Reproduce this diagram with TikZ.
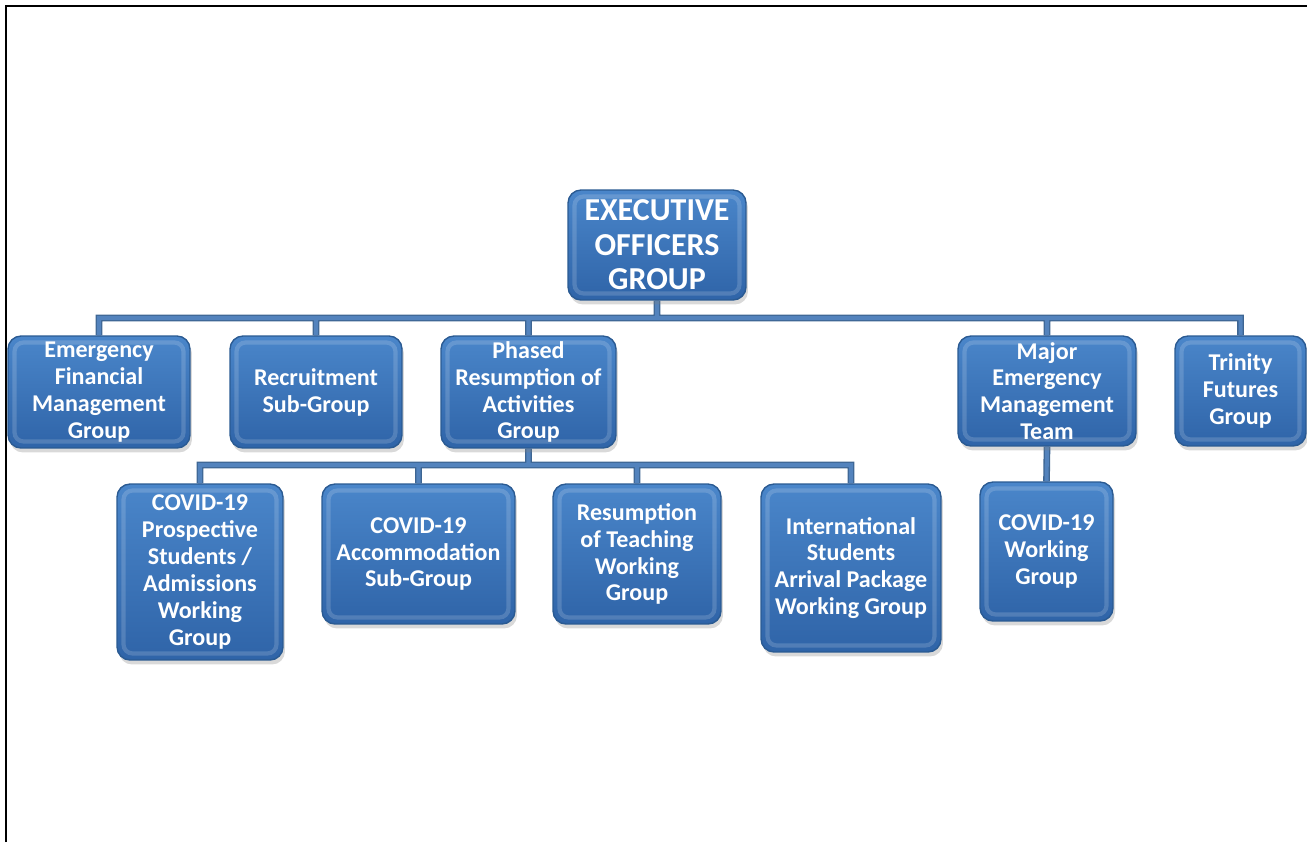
\documentclass[tikz,border=0pt]{standalone}
\usepackage{fontspec}
\setmainfont{Carlito}
\usetikzlibrary{shadows}
\usetikzlibrary{backgrounds}

\definecolor{boxtop}{HTML}{4A86CA}
\definecolor{boxbot}{HTML}{2F64A8}
\definecolor{boxedge}{HTML}{2A5A92}
\definecolor{linkedge}{HTML}{3D6592}
\definecolor{linkfill}{HTML}{5383BD}

\begin{document}
\begin{tikzpicture}[x=0.02cm, y=-0.02cm]
\useasboundingbox (0,0) rectangle (1307,842);
\draw[line width=1.7pt] (6,842) -- (6,6) -- (1307,6);

\begin{scope}
\tikzstyle{orgbox}=[shape=rectangle, rounded corners=0.26cm, top color=boxtop, bottom color=boxbot,
  draw=boxedge, line width=0.8pt, text=white, align=center, inner sep=2pt,
  font=\fontsize{13.7}{15.3}\selectfont\bfseries,
  drop shadow={shadow xshift=0.4mm, shadow yshift=-0.9mm, opacity=0.3},
  path picture={\draw[white, opacity=0.16, line width=2.4pt, rounded corners=0.18cm]
    ([shift={(0.13cm,-0.13cm)}]path picture bounding box.north west) rectangle
    ([shift={(-0.13cm,0.13cm)}]path picture bounding box.south east);}];

% top
\draw (657,245) node[orgbox, minimum width=3.56cm, minimum height=2.2cm,
  font=\fontsize{18.2}{19.6}\selectfont\bfseries] (e1) {EXECUTIVE\\OFFICERS\\GROUP};

% first row
\draw (99,392) node[orgbox, minimum width=3.64cm, minimum height=2.24cm] (a1) {Emergency\\Financial\\Management\\Group};
\draw (316,392) node[orgbox, minimum width=3.44cm, minimum height=2.24cm] (a2) {Recruitment\\Sub-Group};
\draw (528.5,392) node[orgbox, minimum width=3.5cm, minimum height=2.24cm] (a3) {Phased\\Resumption of\\Activities\\Group};
\draw (1047,391) node[orgbox, minimum width=3.56cm, minimum height=2.2cm] (a4) {Major\\Emergency\\Management\\Team};
\draw (1240.5,391) node[orgbox, minimum width=2.62cm, minimum height=2.2cm] (a5) {Trinity\\Futures\\Group};

% second row
\draw (200,572) node[orgbox, minimum width=3.32cm, minimum height=3.52cm] (b1) {COVID-19\\Prospective\\Students /\\Admissions\\Working\\Group};
\draw (418.5,554) node[orgbox, minimum width=3.86cm, minimum height=2.8cm] (b2) {COVID-19\\Accommodation\\Sub-Group};
\draw (637,554) node[orgbox, minimum width=3.36cm, minimum height=2.8cm] (b3) {Resumption\\of Teaching\\Working\\Group};
\draw (851,568) node[orgbox, minimum width=3.6cm, minimum height=3.36cm] (b4) {International\\Students\\Arrival Package\\Working Group};
\draw (1046.5,551.5) node[orgbox, minimum width=2.66cm, minimum height=2.78cm] (c1) {COVID-19\\Working\\Group};

\coordinate (t1) at (657,318);
\coordinate (t2) at (528.5,465);

\begin{scope}[on background layer]
\foreach \lw/\lc in {3.8pt/linkedge, 2.3pt/linkfill} {
  \draw[line width=\lw, draw=\lc] (e1.south) -- (t1)
    (a1.north) |- (t1) -| (a5.north)
    (a2.north) -- (a2.north |- t1)
    (a3.north) -- (a3.north |- t1)
    (a4.north) -- (a4.north |- t1)
    (a3.south) -- (t2)
    (b1.north) |- (t2) -| (b4.north)
    (b2.north) -- (b2.north |- t2)
    (b3.north) -- (b3.north |- t2)
    (a4.south) -- (c1.north);
}
\end{scope}
\end{scope}
\end{tikzpicture}
\end{document}
